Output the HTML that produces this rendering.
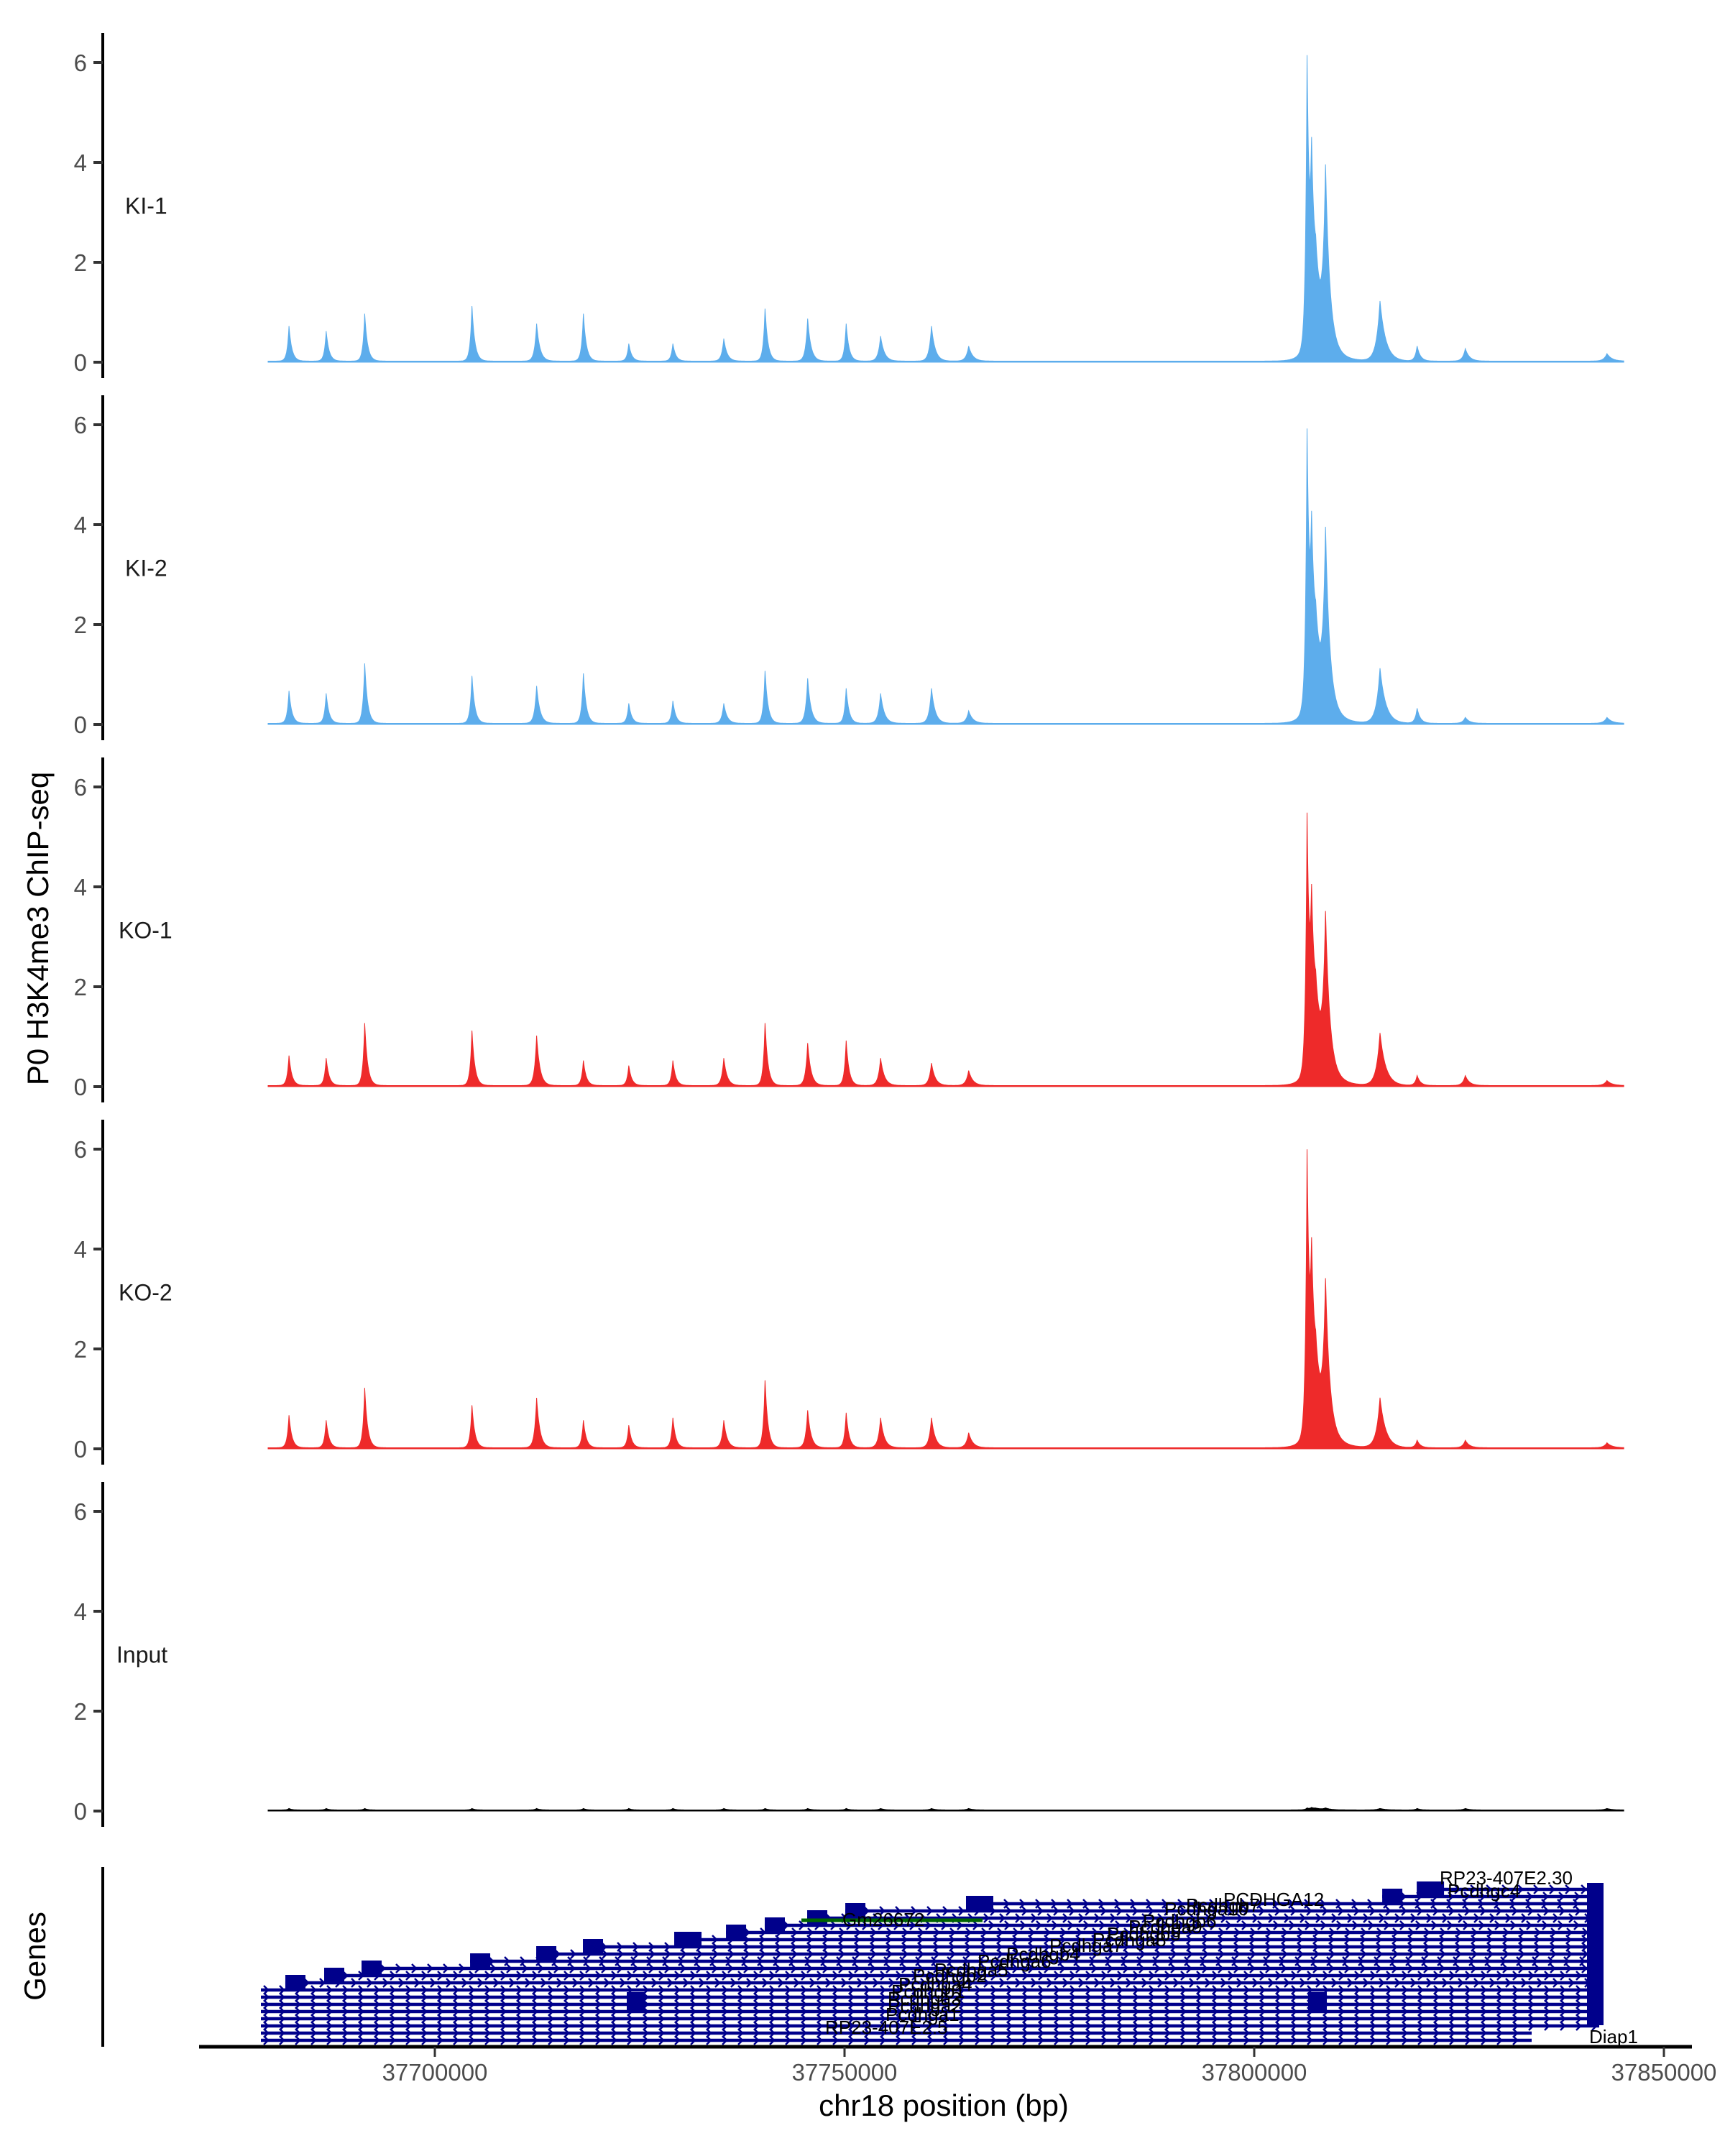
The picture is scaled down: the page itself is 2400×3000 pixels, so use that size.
<!DOCTYPE html>
<html><head><meta charset="utf-8"><style>
html,body{margin:0;padding:0;background:#fff;}
svg{display:block;font-family:"Liberation Sans","DejaVu Sans",sans-serif;}
</style></head><body>
<svg id="chart" width="2400" height="3000" viewBox="0 0 2400 3000" xmlns="http://www.w3.org/2000/svg">
<rect width="2400" height="3000" fill="#fff"/>
<g id="tracks"></g>
<g id="genes"></g>
<text x="67" y="1292" transform="rotate(-90 67 1292)" text-anchor="middle" font-size="42" fill="#000">P0 H3K4me3 ChIP-seq</text>
<text x="63" y="2722" transform="rotate(-90 63 2722)" text-anchor="middle" font-size="42" fill="#000">Genes</text>
<text x="1313" y="2944" text-anchor="middle" font-size="42" fill="#000">chr18 position (bp)</text>
</svg>
<script>
// ---- data ----
const sampleNames = ["KI-1","KI-2","KO-1","KO-2","Input"];
const sampleColors = ["#5dadec","#5dadec","#ee2a2a","#ee2a2a","#000000"];
const peakPositions = [37682200,37686740,37691440,37704530,37712420,37718130,37723670,37729050,37735260,37740300,37745500,37750200,37754400,37760610,37765150,37806450,37808700,37807500,37815350,37819880,37825760,37843050,37807000];
const peakWidths    = [350,350,350,350,400,350,350,350,400,350,400,350,450,450,500,300,500,1300,700,400,500,600,400];
const heightsKI1 = [0.7,0.6,0.95,1.1,0.75,0.95,0.35,0.35,0.45,1.05,0.85,0.75,0.5,0.7,0.3,5.4,3.3,1.5,1.2,0.3,0.25,0.15,2.8];
const heightsKI2 = [0.65,0.6,1.2,0.95,0.75,1.0,0.4,0.45,0.4,1.05,0.9,0.7,0.6,0.7,0.25,5.2,3.3,1.5,1.1,0.3,0.12,0.12,2.6];
const heightsKO1 = [0.6,0.55,1.25,1.1,1.0,0.5,0.4,0.5,0.55,1.25,0.85,0.9,0.55,0.45,0.3,4.8,2.9,1.4,1.05,0.2,0.2,0.1,2.5];
const heightsKO2 = [0.65,0.55,1.2,0.85,1.0,0.55,0.45,0.6,0.55,1.35,0.75,0.7,0.6,0.6,0.3,5.3,2.8,1.4,1.0,0.15,0.15,0.1,2.6];
const heightsInput = [0.03,0.03,0.03,0.03,0.03,0.03,0.03,0.03,0.03,0.03,0.03,0.03,0.03,0.03,0.03,0.03,0.03,0.03,0.03,0.03,0.03,0.03,0.03];
const allHeights = [heightsKI1,heightsKI2,heightsKO1,heightsKO2,heightsInput];
const yTicks = [0,2,4,6];
const xTicks = [37700000,37750000,37800000,37850000];
const dataStart = 37679650, dataEnd = 37845100;
// first exon (box) position of each transcript row, bottom to top (0 = no box)
const geneRowBoxes = [0,0,0,0,0,0,0,0,37682980,37687720,37692280,37705530,37713600,37719300,37730880,37736760,37741490,37746670,37751320,37766490,37816850,37821500];
// ---- scales ----
const NS="http://www.w3.org/2000/svg";
function xs(p){return 605+(p-37700000)*570/50000;}
function panelZero(i){return 504+i*504;}
function ys(i,v){return panelZero(i)-v*69.5;}
function mk(tag,attrs,parent){const e=document.createElementNS(NS,tag);for(const k in attrs)e.setAttribute(k,attrs[k]);parent.appendChild(e);return e;}
const samplePts=[];
for(let p=dataStart;p<=dataEnd;p+=50)samplePts.push(p);
peakPositions.forEach(p=>samplePts.push(p));
samplePts.sort((a,b)=>a-b);
const tracks=document.getElementById('tracks');
sampleNames.forEach((name,i)=>{
  const g=mk('g',{},tracks);
  
  
  const ax=mk('line',{x1:143,x2:143,y1:46+i*504,y2:526+i*504,stroke:'#000','stroke-width':4},g);
  
  
  yTicks.forEach(t=>{
    const tk=mk('line',{x1:130,x2:143,y1:ys(i,t),y2:ys(i,t),stroke:'#333','stroke-width':4},g);
    
    
    const tl=mk('text',{x:121,y:ys(i,t)+12,'text-anchor':'end','font-size':33,fill:'#4d4d4d'},g);
    tl.textContent=t;
    
    
  });
  const lab=mk('text',{x:(i<2?174:(i<4?165:162)),y:ys(i,3)+2,'font-size':32,fill:'#1a1a1a'},g);
  lab.textContent=name;
  
  
  const h=allHeights[i];
  let d='M'+xs(dataStart)+','+panelZero(i);
  samplePts.forEach(p=>{
    let v=0;
    for(let k=0;k<peakPositions.length;k++){const dd=p-peakPositions[k];v+=h[k]*Math.exp(-Math.abs(dd)/peakWidths[k]*(dd<0?1.6:1));}
    d+=' L'+xs(p).toFixed(1)+','+(ys(i,v)-1.5).toFixed(1);
  });
  d+=' L'+xs(dataEnd)+','+panelZero(i)+' Z';
  const area=mk('path',{d:d,fill:sampleColors[i],stroke:sampleColors[i],'stroke-width':1},g);
  
  
});
// ---- genes ----
const genes=document.getElementById('genes');
const gax=mk('line',{x1:143,x2:143,y1:2598,y2:2848,stroke:'#000','stroke-width':4},genes);


const xax=mk('line',{x1:277,x2:2354,y1:2848,y2:2848,stroke:'#000','stroke-width':5},genes);


xTicks.forEach(t=>{
  const tk=mk('line',{x1:xs(t),x2:xs(t),y1:2848,y2:2862,stroke:'#333','stroke-width':3},genes);
  
  
  const tl=mk('text',{x:xs(t),y:2895,'text-anchor':'middle','font-size':33,fill:'#4d4d4d'},genes);
  tl.textContent=t;
  
  
});
const navy='#00008b';
geneRowBoxes.forEach((b,i)=>{
  const y=2839-i*10;
  const x0=b?xs(b)-14:xs(dataStart)-10, x1=(i<2?2131:2225);
  const g=mk('g',{},genes);
  
  
  mk('line',{x1:x0,x2:x1,y1:y,y2:y,stroke:navy,'stroke-width':4.5},g);
  let cd='';
  for(let x=x0+8;x<x1-4;x+=22){cd+='M'+(x-4)+','+(y-6)+' L'+(x+2)+','+y+' L'+(x-4)+','+(y+6)+' ';}
  mk('path',{d:cd,fill:'none',stroke:navy,'stroke-width':2.5},g);
  if(b){const w=(i==19||i==21||i==14)?38:28;mk('rect',{x:xs(b)-w/2,y:y-11,width:w,height:22,fill:navy},g);}
});
[[885,2772],[1833,2772]].forEach(b=>{
  const r=mk('rect',{x:b[0]-13,y:b[1],width:26,height:26,fill:navy},genes);
  
  
});
const vbar=mk('rect',{x:2208,y:2620,width:23,height:198,fill:navy},genes);


const gg=mk('g',{},genes);


mk('line',{x1:1115,x2:1367,y1:2672,y2:2672,stroke:'#006400','stroke-width':5},gg);
const geneLabels=[["RP23-407E2.30",2003,2622],["Pcdhgc4",2014,2640],["PCDHGA12",1702,2652],["Pcdhga10",1620,2665],["Pcdhgb7",1650,2660],["Pcdhgb6",1590,2682],["Pcdhga9",1570,2690],["Pcdhgb5",1540,2700],["Pcdhga8",1520,2708],["Pcdhga7",1460,2716],["Pcdhgb4",1400,2728],["Pcdhga6",1360,2738],["Pcdhga5",1300,2750],["Pcdhgb2",1270,2758],["Pcdhga4",1250,2770],["Pcdhgb1",1240,2780],["Pcdhga3",1235,2790],["Pcdhga2",1235,2800],["Pcdhga1",1232,2812],["RP23-407E2.5",1148,2830],["Gm26672",1172,2680],["Diap1",2211,2843]];
geneLabels.forEach(l=>{
  const t=mk('text',{x:l[1],y:l[2],'font-size':26,fill:'#000'},genes);
  t.textContent=l[0];
  
  
});
</script>
</body></html>
